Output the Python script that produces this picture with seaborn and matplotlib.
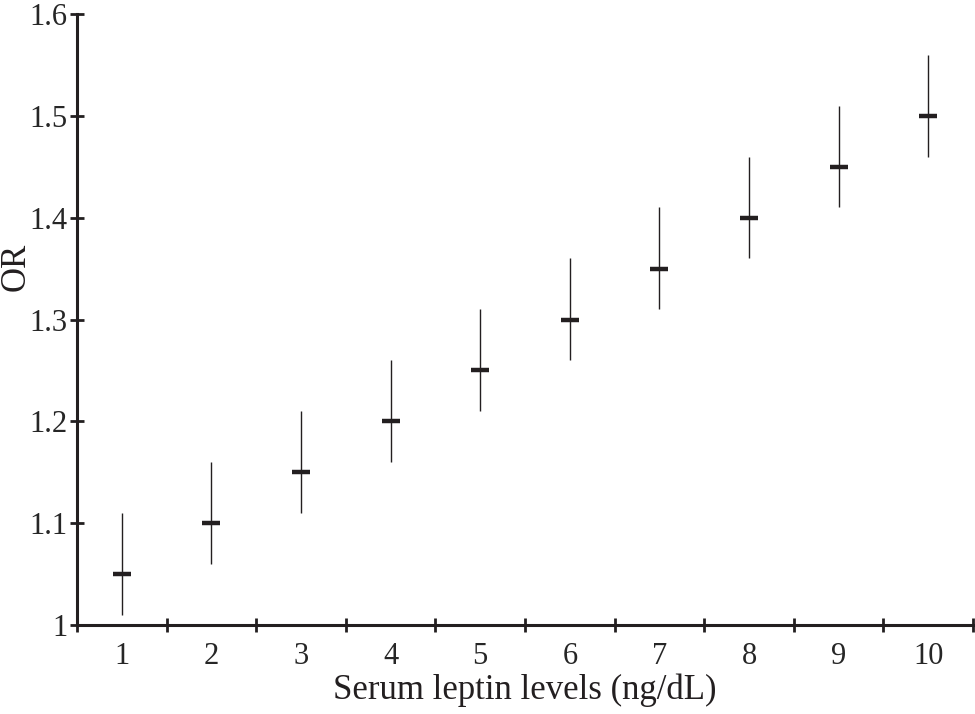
import numpy as np
import pandas as pd
import matplotlib
matplotlib.use("Agg")
import matplotlib.pyplot as plt
import seaborn as sns

# Values
leptin = [1, 2, 3, 4, 5, 6, 7, 8, 9, 10]
odds_ratio = [1.05, 1.10, 1.15, 1.20, 1.25, 1.30, 1.35, 1.40, 1.45, 1.50]
ci_lower = [1.01, 1.06, 1.11, 1.16, 1.21, 1.26, 1.31, 1.36, 1.41, 1.46]
ci_upper = [1.11, 1.16, 1.21, 1.26, 1.31, 1.36, 1.41, 1.46, 1.51, 1.56]

df = pd.DataFrame({'leptin': leptin, 'OR': odds_ratio,
                   'lower': ci_lower, 'upper': ci_upper})

sns.set_style('ticks')
plt.rcParams['font.family'] = ['Liberation Serif', 'DejaVu Serif']

fig = plt.figure(figsize=(9.75, 7.14), dpi=100)
ax = fig.add_axes([0.079, 0.1246, 0.919, 0.8558])

# Confidence interval lines
ax.vlines(df['leptin'], df['lower'], df['upper'], color='#231f20', linewidth=1.0, zorder=2)
# Point estimate dashes
sns.scatterplot(data=df, x='leptin', y='OR', marker='_', s=180, linewidth=3.2,
                color='#231f20', ax=ax, zorder=3, legend=False)

ax.set_xlim(0.5, 10.5)
ax.set_ylim(1.0, 1.6)

# x ticks sit between categories, labels on the categories
ax.set_xticks(np.arange(0.5, 11, 1))
ax.set_xticklabels([])
ax.set_xticks(leptin, minor=True)
ax.set_xticklabels([str(v) for v in leptin], minor=True)
ax.tick_params(axis='x', which='minor', length=0, pad=12, labelsize=22)
ax.tick_params(axis='x', which='major', direction='inout', length=10, width=2, color='#231f20')

ax.set_yticks([1.0, 1.1, 1.2, 1.3, 1.4, 1.5, 1.6])
ax.set_yticklabels(['1', '1.1', '1.2', '1.3', '1.4', '1.5', '1.6'])
ax.tick_params(axis='y', direction='inout', length=10, width=2, color='#231f20',
               labelsize=22, pad=2)

for side in ['top', 'right']:
    ax.spines[side].set_visible(False)
for side in ['left', 'bottom']:
    ax.spines[side].set_linewidth(2.2)
    ax.spines[side].set_color('#231f20')

ax.set_xlabel('Serum leptin levels (ng/dL)', fontsize=25, color='#231f20', labelpad=2)
ax.set_ylabel('OR', fontsize=25, color='#231f20')
ax.yaxis.set_label_coords(-0.050, 0.586)

fig.savefig('out.png', dpi=100)
